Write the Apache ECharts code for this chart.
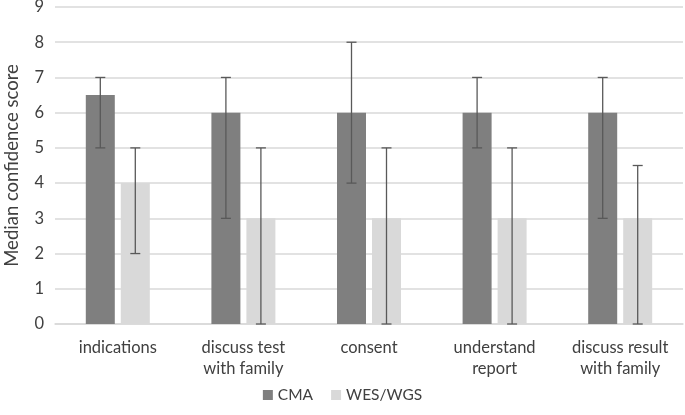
<!DOCTYPE html>
<html>
<head>
<meta charset="utf-8">
<script src="https://cdn.jsdelivr.net/npm/echarts@6/dist/echarts.min.js"></script>
<style>
  html, body { margin: 0; padding: 0; background: #fff; }
  #chart { width: 685px; height: 415px; }
</style>
</head>
<body>
<div id="chart"></div>
<script>
// categories and values
const categories = ['indications', 'discuss test\nwith family', 'consent', 'understand\nreport', 'discuss result\nwith family'];
const cmaMedian = [6.5, 6, 6, 6, 6];
const cmaLow = [5, 3, 4, 5, 3];
const cmaHigh = [7, 7, 8, 7, 7];
const wesMedian = [4, 3, 3, 3, 3];
const wesLow = [2, 0, 0, 0, 0];
const wesHigh = [5, 5, 5, 5, 4.5];

const BAR_W = 29;
const BAR_GAP = 6;
const FONT = 'Lato, "Open Sans", sans-serif';

// error bar rows: [category index, low, high, side (-1 = CMA, 1 = WES)]
const errRows = [];
categories.forEach((c, i) => {
  errRows.push([i, cmaLow[i], cmaHigh[i], -1]);
  errRows.push([i, wesLow[i], wesHigh[i], 1]);
});

function renderErr(params, api) {
  const idx = api.value(0);
  const side = api.value(3);
  const lo = api.coord([idx, api.value(1)]);
  const hi = api.coord([idx, api.value(2)]);
  const x = lo[0] + side * (BAR_W + BAR_GAP) / 2;
  const cap = 5;
  const style = { stroke: '#595959', lineWidth: 1.3 };
  return {
    type: 'group',
    children: [
      { type: 'line', shape: { x1: x, y1: lo[1], x2: x, y2: hi[1] }, style },
      { type: 'line', shape: { x1: x - cap, y1: hi[1], x2: x + cap, y2: hi[1] }, style },
      { type: 'line', shape: { x1: x - cap, y1: lo[1], x2: x + cap, y2: lo[1] }, style }
    ]
  };
}

const chart = echarts.init(document.getElementById('chart'));
chart.setOption({
  animation: false,
  textStyle: { fontFamily: FONT },
  grid: { left: 55, right: 2, top: 7, bottom: 91, containLabel: false, outerBoundsMode: 'none' },
  legend: {
    data: ['CMA', 'WES/WGS'],
    bottom: 7,
    left: 'center',
    icon: 'rect',
    itemWidth: 10,
    itemHeight: 10,
    itemGap: 18,
    itemStyle: { borderWidth: 0 },
    textStyle: { fontSize: 15.5, color: '#404040', fontFamily: FONT }
  },
  xAxis: {
    type: 'category',
    data: categories,
    axisLine: { lineStyle: { color: '#d9d9d9', width: 1.5 } },
    axisTick: { show: false },
    axisLabel: {
      interval: 0,
      hideOverlap: false,
      fontSize: 16.5,
      color: '#404040',
      margin: 13,
      lineHeight: 21,
      fontFamily: FONT
    }
  },
  yAxis: {
    type: 'value',
    min: 0,
    max: 9,
    interval: 1,
    name: 'Median confidence score',
    nameLocation: 'middle',
    nameGap: 33,
    nameTextStyle: { fontSize: 18.5, color: '#404040', fontFamily: FONT },
    axisLine: { show: false },
    axisTick: { show: false },
    axisLabel: { fontSize: 16.5, color: '#404040', margin: 11, fontFamily: FONT },
    splitLine: { lineStyle: { color: '#d9d9d9', width: 1.5 } }
  },
  series: [
    {
      name: 'CMA',
      type: 'bar',
      data: cmaMedian,
      barWidth: BAR_W,
      barGap: (BAR_GAP / BAR_W * 100) + '%',
      itemStyle: { color: '#7f7f7f' }
    },
    {
      name: 'WES/WGS',
      type: 'bar',
      data: wesMedian,
      barWidth: BAR_W,
      itemStyle: { color: '#d9d9d9' }
    },
    {
      name: 'err',
      type: 'custom',
      renderItem: renderErr,
      data: errRows,
      encode: { x: 0, y: [1, 2] },
      z: 10,
      silent: true
    }
  ]
});
</script>
</body>
</html>
